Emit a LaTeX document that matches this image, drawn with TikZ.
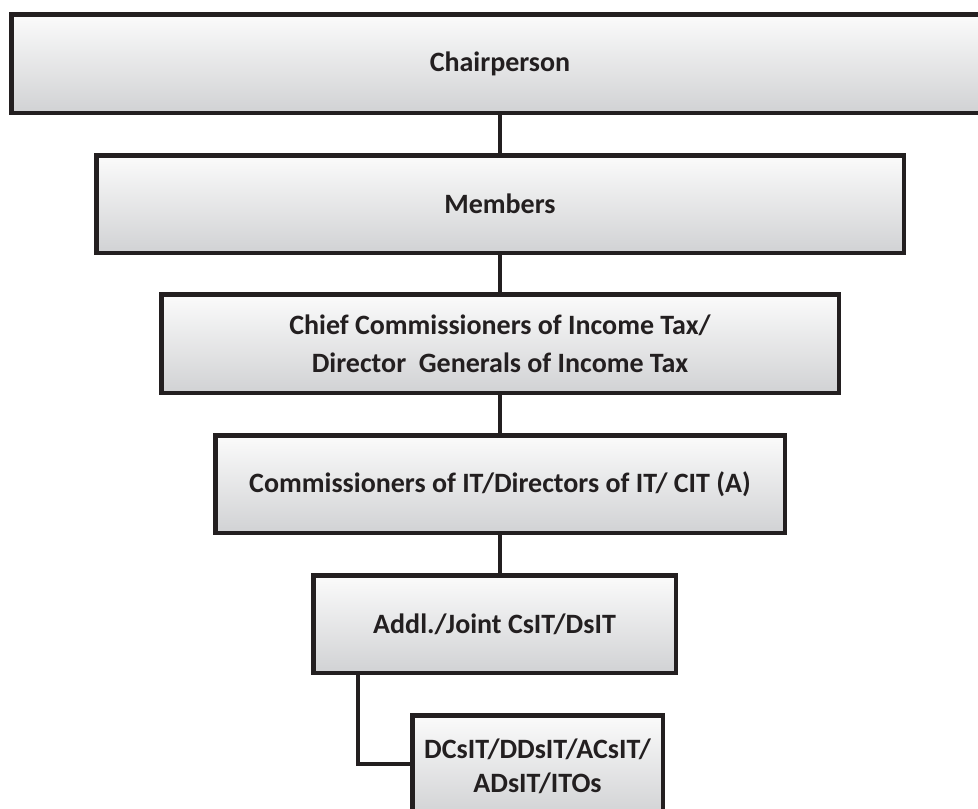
\documentclass[tikz,border=0pt]{standalone}
\usepackage{fontspec}
\setmainfont{Carlito}
\usepackage{xcolor}
\usepackage{tikz}

\definecolor{boxline}{HTML}{231F20}
\definecolor{boxtop}{HTML}{FBFBFB}
\definecolor{boxbottom}{HTML}{D1D2D4}

\tikzset{
    rankbox/.style={draw=boxline, line width=4.5pt, top color=boxtop,
        bottom color=boxbottom, inner sep=0pt, align=center,
        font=\fontsize{28}{34}\selectfont\bfseries, text=boxline},
    link/.style={draw=boxline, line width=4.5pt}
}

\begin{document}
\begin{tikzpicture}[x=1pt,y=-1pt]
                \useasboundingbox (0,0) rectangle (978,809);
                \node[rankbox, minimum width=977.5pt, minimum height=98.5pt]
                    (chair) at (500,63.5) {Chairperson};
                \node[rankbox, minimum width=807.5pt, minimum height=97.5pt]
                    (members) at (500,204) {Members};
                \node[rankbox, minimum width=677.5pt, minimum height=98.5pt]
                    (ccit) at (500,343.5) {Chief Commissioners of Income Tax/\\[4pt]Director\ \ Generals of Income Tax};
                \node[rankbox, minimum width=569.5pt, minimum height=97.5pt]
                    (cit) at (500,484) {Commissioners of IT/Directors of IT/ CIT (A)};
                \node[rankbox, minimum width=362.5pt, minimum height=97.5pt]
                    (addl) at (494.5,624) {Addl./Joint CsIT/DsIT};
                \node[rankbox, minimum width=250.5pt, minimum height=101.5pt]
                    (dcit) at (537.5,766) {DCsIT/DDsIT/ACsIT/\\ADsIT/ITOs};
                \coordinate (bend) at (358,764);
                % connectors
                \draw[link] (chair.south) -- (members.north);
                \draw[link] (members.south) -- (ccit.north);
                \draw[link] (ccit.south) -- (cit.north);
                \draw[link] (cit.south) -- (cit.south |- addl.north);
                \draw[link] (addl.south -| bend) -- (bend) -- (bend -| dcit.west);
            \end{tikzpicture}
\end{document}
